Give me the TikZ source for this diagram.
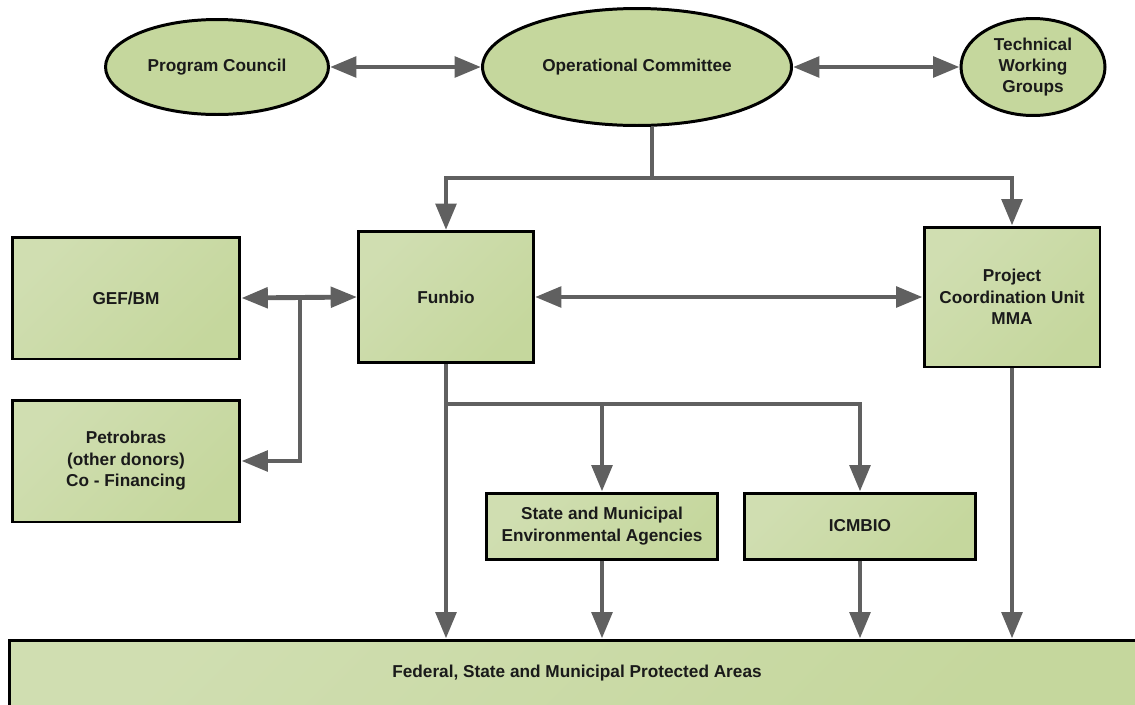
\documentclass[tikz,border=0pt]{standalone}
\usepackage{fontspec}
\setmainfont{Liberation Sans}
\usepackage{tikz}
\usetikzlibrary{shapes.geometric,arrows.meta,calc}
\usepackage{xcolor}
\definecolor{leaf}{RGB}{197,215,157}
\definecolor{leaflight}{RGB}{208,222,177}
\definecolor{pipe}{RGB}{96,96,96}
\definecolor{ink}{RGB}{26,26,26}

\begin{document}
\begin{tikzpicture}[x=0.02cm,y=-0.02cm,
  txt/.style={font=\fontsize{9.8}{12.2}\selectfont\bfseries, text=ink, align=center},
  oval/.style={txt, ellipse, draw=black, line width=1.7pt, fill=leaf, inner sep=0pt},
  unit/.style={txt, rectangle, draw=black, line width=1.7pt, top color=leaflight, bottom color=leaf, shading angle=45, inner sep=2pt},
  link/.style={draw=pipe, line width=2.8pt},
  arr/.style={link, -{Triangle[length=15pt,width=11.5pt]}},
  twoarr/.style={link, {Triangle[length=15pt,width=11.5pt]}-{Triangle[length=15pt,width=11.5pt]}}]
  \useasboundingbox (0,0) rectangle (1135,704);

  % top row
  \node[oval, minimum width=4.46cm, minimum height=1.9cm] (council) at (217,67) {Program Council};
  \node[oval, minimum width=6.18cm, minimum height=2.34cm] (committee) at (637,67) {Operational Committee};
  \node[oval, minimum width=2.88cm, minimum height=1.94cm] (groups) at (1033,67) {Technical\\Working\\Groups};

  % middle boxes
  \node[unit, minimum width=4.56cm, minimum height=2.44cm] (gef) at (126,298) {GEF/BM};
  \node[unit, minimum width=4.56cm, minimum height=2.44cm] (petro) at (126,461) {Petrobras\\(other donors)\\Co - Financing};
  \node[unit, minimum width=3.5cm, minimum height=2.62cm] (funbio) at (446,297) {Funbio};
  \node[unit, minimum width=3.52cm, minimum height=2.8cm] (pcu) at (1012,297) {Project\\Coordination Unit\\MMA};
  \node[unit, minimum width=4.62cm, minimum height=1.32cm] (agencies) at (602,526) {State and Municipal\\Environmental Agencies};
  \node[unit, minimum width=4.62cm, minimum height=1.32cm] (icmbio) at (860,526) {ICMBIO};

  % bottom bar
  \node[unit, minimum width=22.7cm, minimum height=1.32cm] (areas) at (577,673) {Federal, State and Municipal Protected Areas};

  \coordinate (split) at (652,178);
  \coordinate (donor) at (300,297);
  \coordinate (branch) at (446,404);

  \draw[twoarr] (council.east) -- (committee.west);
  \draw[twoarr] (committee.east) -- (groups.west);
  \draw[link] (split |- committee.south) -- (split);
  \draw[arr] (split) -| (funbio.north);
  \draw[arr] (split) -| (pcu.north);
  \draw[twoarr] (gef.east) -- (funbio.west);
  \draw[arr] (donor) |- (petro.east);
  \draw[twoarr] (funbio.east) -- (pcu.west);
  \draw[arr] (funbio.south) -- (funbio.south |- areas.north);
  \draw[arr] (branch) -| (agencies.north);
  \draw[arr] (branch) -| (icmbio.north);
  \draw[arr] (agencies.south) -- (agencies.south |- areas.north);
  \draw[arr] (icmbio.south) -- (icmbio.south |- areas.north);
  \draw[arr] (pcu.south) -- (pcu.south |- areas.north);
\end{tikzpicture}
\end{document}
